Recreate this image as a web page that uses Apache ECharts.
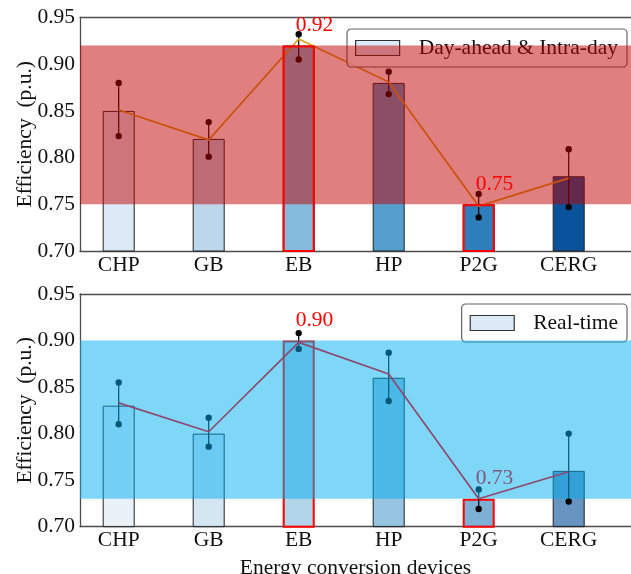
<!DOCTYPE html>
<html>
<head>
<meta charset="utf-8">
<script src="https://cdn.jsdelivr.net/npm/echarts@6/dist/echarts.min.js"></script>
<style>
  html, body { margin: 0; padding: 0; background: #fff; }
  #chart { width: 631px; height: 574px; }
</style>
</head>
<body>
<div id="chart"></div>
<script>
const devices = ['CHP', 'GB', 'EB', 'HP', 'P2G', 'CERG'];
const blues = ['#dce9f6', '#bcd7eb', '#85bcdc', '#559fcf', '#2e7ebc', '#0b529d'];

// Day-ahead & Intra-day
const daBars = [0.85, 0.82, 0.92, 0.88, 0.75, 0.78];
const daLow  = [0.823, 0.801, 0.905, 0.868, 0.736, 0.747];
const daHigh = [0.880, 0.838, 0.932, 0.892, 0.761, 0.809];
const daLine = [0.851, 0.819, 0.927, 0.881, 0.748, 0.778];
const daBand = [0.75, 0.92];

// Real-time
const rtBars = [0.83, 0.80, 0.90, 0.86, 0.73, 0.76];
const rtLow  = [0.810, 0.786, 0.891, 0.835, 0.719, 0.727];
const rtHigh = [0.855, 0.817, 0.908, 0.887, 0.740, 0.800];
const rtLine = [0.833, 0.802, 0.898, 0.864, 0.730, 0.759];
const rtBand = [0.73, 0.90];

const yMin = 0.70, yMax = 0.95, yStep = 0.05;
// plot runs past the right edge of the picture, so no right spine
const xMin = -0.43, xMax = -0.43 + 551 / 90;

const FONT = "'Liberation Serif', 'Times New Roman', serif";
const FS = 21.5;
const SPINE = { color: '#4d4d4d', width: 1.3 };

const chart = echarts.init(document.getElementById('chart'));

function hexA(hex, a) {
  const n = parseInt(hex.slice(1), 16);
  return `rgba(${(n >> 16) & 255},${(n >> 8) & 255},${n & 255},${a})`;
}

// max and min bars get the red frame
function highlights(bars) {
  return [bars.indexOf(Math.max(...bars)), bars.indexOf(Math.min(...bars))];
}

function errSeries(i, low, high) {
  return {
    type: 'custom', xAxisIndex: i, yAxisIndex: i, z: 3, silent: true,
    data: low.map((v, k) => [k, v, high[k]]),
    encode: { x: 0, y: [1, 2] },
    renderItem: (params, api) => {
      const x = api.value(0);
      const lo = api.coord([x, api.value(1)]);
      const hi = api.coord([x, api.value(2)]);
      return {
        type: 'group',
        children: [
          { type: 'line', shape: { x1: lo[0], y1: lo[1], x2: hi[0], y2: hi[1] }, style: { stroke: '#000', lineWidth: 1.2 } },
          { type: 'circle', shape: { cx: lo[0], cy: lo[1], r: 3.2 }, style: { fill: '#000' } },
          { type: 'circle', shape: { cx: hi[0], cy: hi[1], r: 3.2 }, style: { fill: '#000' } }
        ]
      };
    }
  };
}

function bandSeries(i, band, color) {
  return {
    type: 'custom', xAxisIndex: i, yAxisIndex: i, z: 5, silent: true,
    data: [[xMin, band[0], band[1]]],
    encode: { x: 0, y: [1, 2] },
    renderItem: (params, api) => {
      const p1 = api.coord([xMin, api.value(2)]);
      const p2 = api.coord([xMax, api.value(1)]);
      return {
        type: 'rect',
        shape: { x: p1[0], y: p1[1], width: p2[0] - p1[0], height: p2[1] - p1[1] },
        style: { fill: color }
      };
    }
  };
}

function lineSeries(i, line, color, z) {
  return {
    type: 'line', xAxisIndex: i, yAxisIndex: i, z: z, silent: true,
    data: line.map((v, k) => [k, v]),
    symbol: 'none',
    lineStyle: { color: color, width: 1.7 }
  };
}

const valueLabel = {
  show: true, position: 'top', distance: 9, align: 'left', offset: [-3, 0],
  color: '#ff0000', fontSize: FS, fontFamily: FONT,
  formatter: p => p.value[1].toFixed(2)
};

const daHl = highlights(daBars);
const rtHl = highlights(rtBars);

const series = [
  // top panel
  {
    type: 'bar', name: 'Day-ahead & Intra-day', xAxisIndex: 0, yAxisIndex: 0, z: 2,
    barWidth: 32,
    data: daBars.map((v, k) => ({
      value: [k, v],
      itemStyle: { color: blues[k], borderColor: '#222', borderWidth: 1 }
    }))
  },
  errSeries(0, daLow, daHigh),
  lineSeries(0, daLine, '#d9a21a', 3),
  bandSeries(0, daBand, 'rgba(192,0,0,0.5)'),
  {
    type: 'bar', name: 'frame-top', xAxisIndex: 0, yAxisIndex: 0, z: 6,
    barWidth: 32, barGap: '-100%',
    data: daBars.map((v, k) => daHl.includes(k) ? { value: [k, v] } : '-'),
    itemStyle: { color: 'rgba(0,0,0,0)', borderColor: '#ff0000', borderWidth: 2 },
    label: valueLabel
  },

  // bottom panel
  {
    type: 'bar', name: 'Real-time', xAxisIndex: 1, yAxisIndex: 1, z: 2,
    barWidth: 32,
    data: rtBars.map((v, k) => ({
      value: [k, v],
      itemStyle: {
        color: hexA(blues[k], 0.62),
        borderColor: rtHl.includes(k) ? '#ff0000' : '#222',
        borderWidth: rtHl.includes(k) ? 2 : 1
      },
      label: Object.assign({}, valueLabel, { show: rtHl.includes(k) })
    }))
  },
  errSeries(1, rtLow, rtHigh),
  bandSeries(1, rtBand, 'rgba(0,175,240,0.5)'),
  lineSeries(1, rtLine, '#8d4a6e', 6)
];

function xAxis(i, name) {
  return {
    type: 'value', gridIndex: i, min: xMin, max: xMax, minInterval: 1, maxInterval: 1,
    axisLine: { show: true, onZero: false, lineStyle: SPINE },
    axisTick: { show: false }, splitLine: { show: false },
    axisLabel: {
      margin: 3, color: '#111', fontSize: FS, fontFamily: FONT,
      formatter: v => Number.isInteger(v) && devices[v] ? devices[v] : ''
    },
    name: name, nameLocation: 'middle', nameGap: 31, nameMoveOverlap: false,
    nameTextStyle: { color: '#111', fontSize: FS, fontFamily: FONT }
  };
}

// top spine only
function xTop(i) {
  return {
    type: 'value', gridIndex: i, position: 'top', min: xMin, max: xMax,
    axisLine: { show: true, onZero: false, lineStyle: SPINE },
    axisTick: { show: false }, axisLabel: { show: false }, splitLine: { show: false }
  };
}

function yAxis(i) {
  return {
    type: 'value', gridIndex: i, min: yMin, max: yMax, interval: yStep,
    axisLine: { show: true, onZero: false, lineStyle: SPINE },
    axisTick: { show: false }, splitLine: { show: false },
    axisLabel: { margin: 5, color: '#111', fontSize: FS, fontFamily: FONT, formatter: v => v.toFixed(2) },
    name: 'Efficiency  (p.u.)', nameLocation: 'middle', nameGap: 44, nameMoveOverlap: false,
    nameTextStyle: { color: '#111', fontSize: FS, fontFamily: FONT }
  };
}

function legend(name, top) {
  return {
    data: [{ name: name, itemStyle: { color: '#dce9f6', borderColor: '#333', borderWidth: 1.2 } }],
    right: 4, top: top, z: 4,
    icon: 'rect', itemWidth: 44, itemHeight: 15,
    padding: [8, 9, 8, 8],
    backgroundColor: 'rgba(255,255,255,0.8)',
    borderColor: '#666', borderWidth: 1.2, borderRadius: 4,
    selectedMode: false,
    textStyle: { color: '#111', fontSize: FS, fontFamily: FONT, padding: [0, 0, 0, 14] }
  };
}

chart.setOption({
  animation: false,
  grid: [
    { left: 80, right: 0, top: 17.5, height: 233.5, outerBoundsMode: 'none' },
    { left: 80, right: 0, top: 294, height: 232.7, outerBoundsMode: 'none' }
  ],
  xAxis: [xAxis(0, ''), xAxis(1, 'Energy conversion devices'), xTop(0), xTop(1)],
  yAxis: [yAxis(0), yAxis(1)],
  legend: [legend('Day-ahead & Intra-day', 29), legend('Real-time', 304)],
  series: series
});
</script>
</body>
</html>
